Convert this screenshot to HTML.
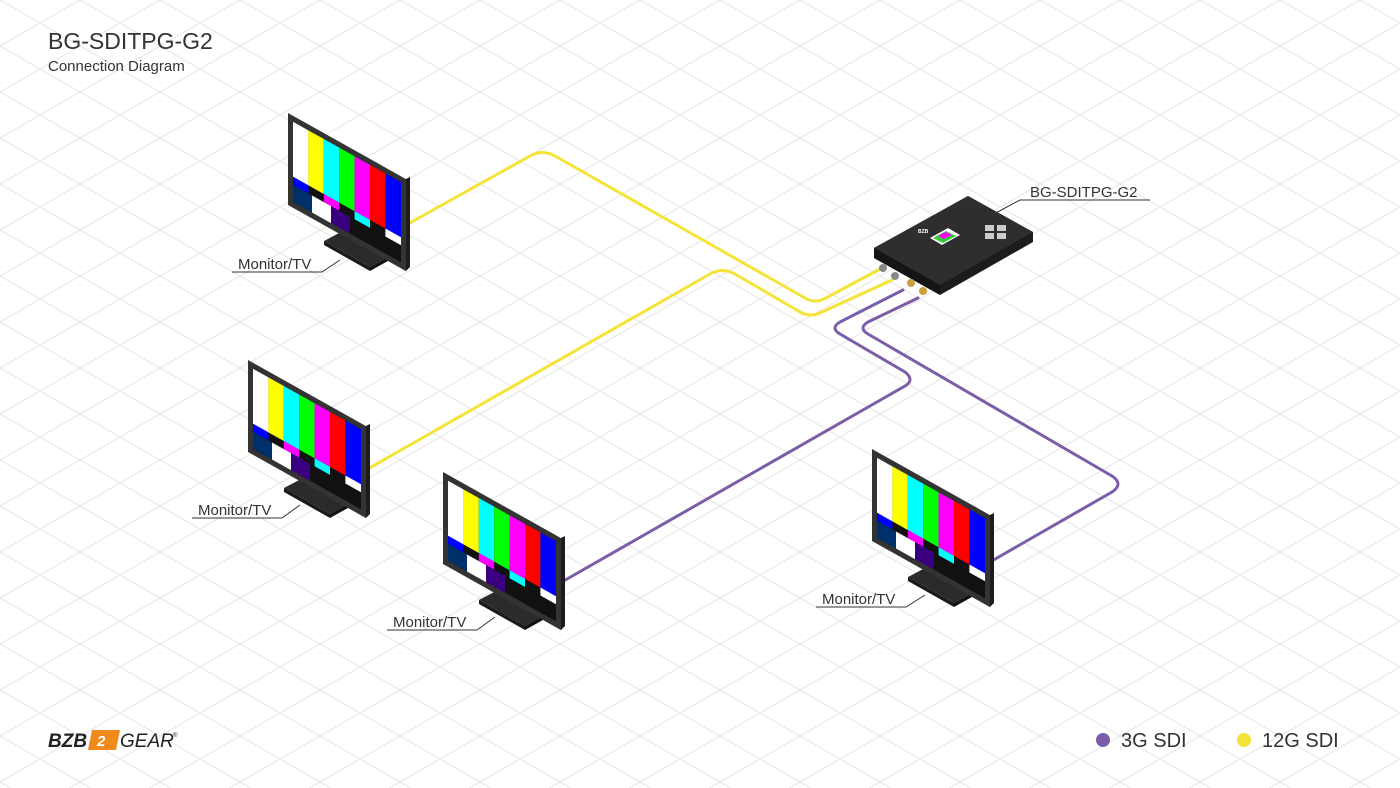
<!DOCTYPE html>
<html><head><meta charset="utf-8"><style>
html,body{margin:0;padding:0;background:#fff}
svg{display:block}
text{font-family:"Liberation Sans",sans-serif}
</style></head><body>
<svg width="1400" height="788" viewBox="0 0 1400 788" xmlns="http://www.w3.org/2000/svg">
<defs>
<pattern id="g1" width="80" height="46" patternUnits="userSpaceOnUse">
<path d="M0 0 L80 46 M-80 0 L0 46 M80 0 L160 46 M0 46 L80 0 M-80 46 L0 0 M80 46 L160 0" stroke="#e6e6e6" stroke-width="1" fill="none"/>
</pattern>
<g id="mon">
  <polygon points="36,128 70,110 116,135 82,154" fill="#2b2b2b"/>
  <polygon points="36,128 82,154 82,158 36,132" fill="#1a1a1a"/>
  <polygon points="82,154 116,135 116,139 82,158" fill="#111"/>
  <polygon points="62,110 74,116 74,132 62,126" fill="#222"/>
  <polygon points="118,66 122,64 122,154 118,158" fill="#1c1c1c"/>
  <g transform="matrix(1,0.56,0,1,0,0)">
    <rect x="0" y="0" width="118" height="92" fill="#333"/>
    <rect x="5" y="6" width="108" height="80" fill="#111"/>
    <rect x="5" y="6" width="15.4" height="55" fill="#fff"/>
    <rect x="20.4" y="6" width="15.4" height="55" fill="#ffff00"/>
    <rect x="35.8" y="6" width="15.4" height="55" fill="#00ffff"/>
    <rect x="51.2" y="6" width="15.4" height="55" fill="#00ff00"/>
    <rect x="66.6" y="6" width="15.4" height="55" fill="#ff00ff"/>
    <rect x="82" y="6" width="15.4" height="55" fill="#ff0000"/>
    <rect x="97.4" y="6" width="15.6" height="55" fill="#0000ff"/>
    <rect x="5" y="61" width="15.4" height="8" fill="#0000ff"/>
    <rect x="35.8" y="61" width="15.4" height="8" fill="#ff00ff"/>
    <rect x="66.6" y="61" width="15.4" height="8" fill="#00ffff"/>
    <rect x="97.4" y="61" width="15.6" height="8" fill="#fff"/>
    <rect x="5" y="69" width="19" height="17" fill="#00306a"/>
    <rect x="24" y="69" width="19" height="17" fill="#fff"/>
    <rect x="43" y="69" width="19" height="17" fill="#3a0080"/>
  </g>
</g>
</defs>
<rect width="1400" height="788" fill="#fff"/>
<rect width="1400" height="788" fill="url(#g1)"/>

<text x="48" y="49" font-size="23" fill="#333">BG-SDITPG-G2</text>
<text x="48" y="71" font-size="15" fill="#333">Connection Diagram</text>

<g fill="none" stroke-width="3" stroke-linejoin="round" stroke-linecap="round">
<path d="M406 225 L530 156 Q542 149 555 156 L805 298 Q815 304 826 298 L882 268" stroke="#f5e33a"/>
<path d="M366 470 L710 274 Q722 267 735 274 L800 312 Q811 318 822 312 L892 280" stroke="#f5e33a"/>
<path d="M903 290 L840 322 Q830 328 840 334 L905 372 Q915 380 905 386 L560 583" stroke="#7b5ea7"/>
<path d="M918 298 L868 322 Q858 328 868 334 L1112 476 Q1124 484 1112 492 L990 562" stroke="#7b5ea7"/>
</g>

<polygon points="874,248 968,196 1033,232 1033,242 940,295 874,258" fill="#1c1c1c"/>
<polygon points="874,248 968,196 1033,232 940,285" fill="#2e2e2e"/>
<polygon points="874,248 940,285 940,295 874,258" fill="#151515"/>
<polygon points="930,238 948,228 960,235 942,245" fill="#fff"/>
<polygon points="933,238 946,231 956,236 943,243" fill="#3c3"/>
<polygon points="938,236 946,232 952,235 944,239" fill="#f0f"/>
<rect x="985" y="225" width="9" height="6" fill="#ccc"/><rect x="997" y="225" width="9" height="6" fill="#ccc"/>
<rect x="985" y="233" width="9" height="6" fill="#ccc"/><rect x="997" y="233" width="9" height="6" fill="#ccc"/>
<text x="918" y="233" font-size="5" fill="#fff" font-weight="bold">BZB</text>
<circle cx="883" cy="268" r="4" fill="#888"/><circle cx="895" cy="276" r="4" fill="#888"/>
<circle cx="911" cy="283" r="4" fill="#c9a03a"/><circle cx="923" cy="291" r="4" fill="#c9a03a"/>

<use href="#mon" x="288" y="113"/>
<use href="#mon" x="248" y="360"/>
<use href="#mon" x="443" y="472"/>
<use href="#mon" x="872" y="449"/>

<g stroke="#333" stroke-width="1" fill="none">
<path d="M232 272 L322 272 L340 260"/>
<path d="M192 518 L282 518 L300 505"/>
<path d="M387 630 L477 630 L495 617"/>
<path d="M816 607 L906 607 L925 595"/>
<path d="M1150 200 L1020 200 L992 215"/>
</g>
<g font-size="15" fill="#333">
<text x="238" y="269">Monitor/TV</text>
<text x="198" y="515">Monitor/TV</text>
<text x="393" y="627">Monitor/TV</text>
<text x="822" y="604">Monitor/TV</text>
<text x="1030" y="197">BG-SDITPG-G2</text>
</g>

<text x="48" y="747" font-size="19" font-weight="bold" font-style="italic" fill="#222">BZB</text>
<polygon points="92,730 120,730 116,750 88,750" fill="#f08a1c"/>
<text x="97" y="746" font-size="15" font-weight="bold" font-style="italic" fill="#fff">2</text>
<text x="120" y="747" font-size="19" font-style="italic" fill="#222">GEAR</text>
<text x="173" y="737" font-size="6" fill="#222">®</text>

<circle cx="1103" cy="740" r="7" fill="#7b5ea7"/>
<text x="1121" y="747" font-size="20" fill="#333">3G SDI</text>
<circle cx="1244" cy="740" r="7" fill="#f5e33a"/>
<text x="1262" y="747" font-size="20" fill="#333">12G SDI</text>
</svg>
</body></html>
